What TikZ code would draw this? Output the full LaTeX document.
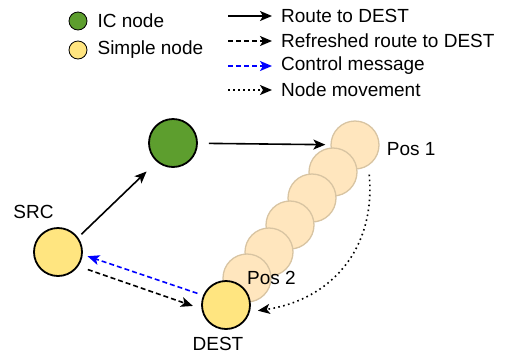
\documentclass[tikz,border=0pt]{standalone}
\usepackage{fontspec}
\setmainfont{Liberation Sans}
\usepackage{tikz}
\usetikzlibrary{positioning,arrows.meta}

\definecolor{icgreen}{RGB}{93,158,46}
\definecolor{simpleyellow}{RGB}{255,229,128}
\definecolor{ghostfill}{RGB}{255,230,190}
\definecolor{ghostline}{RGB}{216,196,162}

\begin{document}
\begin{tikzpicture}[
            x=1pt, y=-1pt,
            font=\fontsize{19}{22}\selectfont,
            icnode/.style={draw=black, line width=1.8pt, circle, fill=icgreen, minimum size=48pt, inner sep=0pt},
            simplenode/.style={draw=black, line width=1.8pt, circle, fill=simpleyellow, minimum size=48pt, inner sep=0pt},
            ghostnode/.style={draw=ghostline, line width=1.3pt, circle, fill=ghostfill, minimum size=48pt, inner sep=0pt},
            legendnode/.style={draw=black, line width=0.8pt, circle, minimum size=18pt, inner sep=0pt},
            txt/.style={inner sep=0pt},
            route/.style={line width=1.6pt, -{Stealth[length=12pt, width=10pt, inset=3pt]}},
            refreshed/.style={route, dash pattern=on 5pt off 3pt},
            control/.style={route, blue, dash pattern=on 5pt off 3pt},
            movement/.style={route, dash pattern=on 1.6pt off 3.4pt}
        ]

        \useasboundingbox (0,0) rectangle (506,354);

        % Legende Knoten
        \node[legendnode, fill=icgreen] (iclegend) at (78,21) {};
        \node[txt, right=10pt of iclegend] (ictext) {IC node};
        \node[legendnode, fill=simpleyellow] (simplelegend) at (78,50) {};
        \node[txt, right=10pt of simplelegend] (simpletext) {Simple node};

        % Legende Kanten
        \coordinate (routea) at (228,16);
        \coordinate (routeb) at (272,16);
        \coordinate (refresha) at (228,41);
        \coordinate (refreshb) at (272,41);
        \coordinate (controla) at (228,66);
        \coordinate (controlb) at (272,66);
        \coordinate (movea) at (228,90);
        \coordinate (moveb) at (272,90);
        \draw[route] (routea) -- (routeb);
        \node[txt, right=9pt of routeb] (routetext) {Route to DEST};
        \draw[refreshed] (refresha) -- (refreshb);
        \node[txt, right=9pt of refreshb] (refreshtext) {Refreshed route to DEST};
        \draw[control] (controla) -- (controlb);
        \node[txt, right=9pt of controlb] (controltext) {Control message};
        \draw[movement] (movea) -- (moveb);
        \node[txt, right=9pt of moveb] (movetext) {Node movement};

        % Bewegung von Pos 1 nach Pos 2
        \node[ghostnode] (pos1) at (355,145) {};
        \node[ghostnode] (ghost2) at (333,172) {};
        \node[ghostnode] (ghost3) at (312,198) {};
        \node[ghostnode] (ghost4) at (290,225) {};
        \node[ghostnode] (ghost5) at (269,252) {};
        \node[ghostnode] (pos2) at (247,278) {};

        % Knoten
        \node[simplenode] (dest) at (226,305) {};
        \node[simplenode] (src) at (58,252) {};
        \node[icnode] (ic) at (173,143) {};

        % Beschriftungen
        \node[txt, right=7pt of pos1, yshift=-4pt] (pos1text) {Pos 1};
        \node[txt, anchor=west] (pos2text) at (pos2.center) {Pos 2};
        \node[txt] (srctext) at (33.5,212) {SRC};
        \node[txt] (desttext) at (218,343.5) {DEST};

        % Kanten zwischen Knoten
        \draw[route, shorten <=4.5pt, shorten >=14pt] (src.36) -- (ic.229);
        \draw[route, shorten <=11pt, shorten >=5pt] (ic) -- (pos1);
        \draw[refreshed, shorten <=10pt, shorten >=9pt] (src.-35) -- (dest.-171);
        \draw[control, shorten <=6pt, shorten >=5pt] (dest.157) -- (src.-6);
        \draw[movement, shorten <=9pt, shorten >=8pt] (pos1.-57) .. controls (376,250) and (330,300) .. (dest.-16);

    \end{tikzpicture}
\end{document}
